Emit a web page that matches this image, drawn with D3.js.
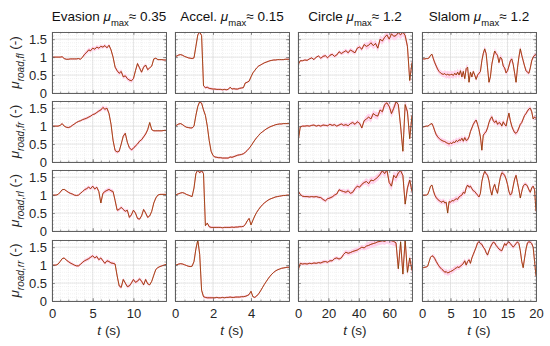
<!DOCTYPE html>
<html>
<head>
<meta charset="utf-8">
<script src="https://cdn.jsdelivr.net/npm/d3@7"></script>
<style>
  body { margin: 0; background: #fff; }
  svg { font-family: "Liberation Sans", Arial, sans-serif; }
</style>
</head>
<body>
<svg id="chart" width="550" height="346"></svg>
<script>
// scenarios (columns) and wheels (rows)
var columnTitles = ["Evasion", "Accel.", "Circle", "Slalom"];
var muMax = ["0.35", "0.15", "1.2", "1.2"];
var wheelLabels = ["fl", "fr", "rl", "rr"];
var timeEnd = [14, 6, 75, 20];
var timeStep = [0.25, 0.1, 1.5, 0.25];
var xTicks = [[0, 5, 10], [0, 2, 4], [0, 20, 40, 60], [0, 5, 10, 15, 20]];
var xMinorStep = [1, 0.5, 5, 1];
var yTicks = [0, 0.5, 1, 1.5];
var bandStep = [2, 1, 15, 2];

// estimated road friction
var evasionFl = [1.0,1.0,1.0,1.0,1.0, 1.01,0.96,0.94,0.94,0.95, 0.95,0.95,0.95,0.96,0.94, 1.0,1.08,1.13,1.2,1.18,
  1.25,1.22,1.28,1.25,1.3, 1.28,1.32,1.26,1.33,1.2, 1.0,0.72,0.62,0.55,0.6, 0.45,0.48,0.4,0.36,0.34,
  0.4,0.62,0.82,0.7,0.58, 0.72,0.78,0.65,0.7,0.75, 0.95,0.97,0.93,0.93,0.93, 0.92,0.92];
var evasionFr = [1.0,1.0,1.0,1.0,1.02, 1.07,1.0,0.97,0.96,0.98, 1.02,1.06,1.1,1.13,1.15, 1.18,1.2,1.22,1.25,1.28,
  1.32,1.34,1.38,1.42,1.45, 1.52,1.47,1.5,1.35,1.05, 0.6,0.32,0.28,0.3,0.5, 0.72,0.8,0.55,0.4,0.34,
  0.38,0.45,0.5,0.58,0.62, 0.7,0.78,0.9,1.1,0.9, 0.87,0.87,0.87,0.87,0.87, 0.88,0.88];
var evasionRl = [1.0,1.0,1.0,1.02,1.08, 1.15,1.16,1.12,1.08,1.05, 1.03,1.0,0.99,1.0,1.05, 1.1,1.15,1.18,1.22,1.18,
  1.25,1.17,1.22,1.1,0.78, 1.05,1.1,1.13,1.16,1.12, 1.1,0.85,0.58,0.6,0.66, 0.6,0.55,0.58,0.38,0.45,
  0.58,0.5,0.35,0.33,0.42, 0.6,0.5,0.38,0.42,0.55, 0.78,0.92,1.0,1.02,1.02, 1.02,1.02];
var evasionRr = [1.0,1.0,1.0,1.03,1.1, 1.18,1.2,1.14,1.1,1.06, 1.03,1.0,0.98,0.98,1.02, 1.08,1.12,1.15,1.18,1.22,
  1.26,1.2,1.24,1.15,1.2, 1.12,1.05,1.12,1.1,1.06, 1.05,1.03,0.7,0.42,0.38, 0.6,0.5,0.4,0.42,0.5,
  0.6,0.52,0.55,0.62,0.55, 0.45,0.6,0.48,0.45,0.55, 0.72,0.88,0.93,0.96,0.98, 1.0,1.02];

var accelFl = [1.02,1.03,1.06,1.07,1.05,1.02,1.0,0.98,0.97,0.96, 0.98,1.3,1.62,1.7,1.6,0.2,0.15,0.16,0.13,0.12,
  0.11,0.11,0.1,0.1,0.1,0.09,0.1,0.09,0.1,0.16, 0.11,0.12,0.11,0.11,0.13,0.14,0.15,0.28,0.3,0.33,
  0.45,0.56,0.63,0.7,0.75,0.78,0.81,0.84,0.86,0.88, 0.9,0.91,0.92,0.92,0.93,0.93,0.93,0.93,0.94,0.94, 0.94];
var accelFr = [1.0,1.03,1.06,1.07,1.04,1.0,0.97,0.96,0.95,0.95, 1.0,1.3,1.55,1.68,1.64,1.45,1.3,1.0,0.6,0.3,
  0.18,0.14,0.13,0.12,0.12,0.11,0.11,0.11,0.11,0.14, 0.13,0.15,0.17,0.19,0.2,0.21,0.23,0.27,0.32,0.38,
  0.45,0.53,0.61,0.68,0.74,0.8,0.84,0.88,0.92,0.95, 0.98,1.0,1.02,1.04,1.05,1.06,1.06,1.07,1.07,1.07, 1.07];
var accelRl = [1.0,1.02,1.04,1.06,1.07,1.05,1.02,1.0,0.98,0.96, 1.2,1.6,1.7,1.62,1.68,1.6,0.15,0.22,0.12,0.1,
  0.1,0.1,0.1,0.1,0.1,0.09,0.1,0.1,0.1,0.1, 0.11,0.1,0.11,0.11,0.12,0.12,0.13,0.18,0.28,0.35,
  0.17,0.3,0.42,0.52,0.6,0.67,0.73,0.78,0.82,0.86, 0.89,0.91,0.93,0.95,0.96,0.97,0.98,0.99,0.99,1.0, 1.0];
var accelRr = [1.0,1.01,1.03,1.04,1.03,1.01,0.99,0.97,0.96,0.97, 1.1,1.45,1.7,1.3,0.3,0.12,0.1,0.09,0.09,0.09,
  0.09,0.09,0.1,0.09,0.09,0.1,0.09,0.1,0.1,0.11, 0.1,0.1,0.11,0.11,0.11,0.12,0.12,0.13,0.15,0.18,
  0.27,0.12,0.1,0.14,0.2,0.28,0.37,0.46,0.54,0.62, 0.69,0.75,0.8,0.84,0.87,0.89,0.91,0.92,0.93,0.94, 0.94];

var circleFl = [0.78,0.9,0.9,0.92,0.91, 0.95,0.98,0.93,1.0,1.03, 0.97,1.02,1.04,0.98,1.05, 1.08,1.02,1.06,1.15,1.1,
  1.14,1.18,1.12,1.2,1.16, 1.12,1.25,1.28,1.22,1.35, 1.3,1.33,1.4,1.32,1.38, 1.25,1.5,1.45,1.55,1.62,
  1.5,1.65,1.58,1.6,1.68, 1.62,1.7,1.6,1.3,0.35, 0.85];
var circleFr = [0.55,0.98,1.0,1.0,1.01, 1.0,1.02,1.03,1.0,1.02, 1.0,1.03,1.02,1.01,1.05, 1.02,1.04,1.0,1.03,1.06,
  1.02,1.04,1.01,1.07,1.1, 1.05,1.12,1.08,0.95,1.15, 1.2,1.25,1.2,1.35,1.3, 1.28,1.45,1.4,1.6,1.65,
  1.55,1.35,1.5,1.68,1.6, 1.0,0.3,1.6,1.4,0.65, 1.3];
var circleRl = [1.12,1.02,0.97,0.96,0.96, 0.95,0.96,0.95,0.96,0.94, 0.93,0.88,0.84,0.9,0.92, 0.95,1.0,1.03,1.15,1.12,
  1.1,1.08,1.12,1.05,1.08, 1.18,1.25,1.22,1.3,1.35, 1.38,1.32,1.42,1.4,1.45, 1.5,1.58,1.68,1.6,1.7,
  1.35,1.25,1.55,1.48,1.62, 1.68,1.55,0.75,1.2,1.42, 1.1];
var circleRr = [0.85,1.05,1.03,1.04,1.03, 1.05,1.04,1.06,1.05,1.07, 1.06,1.09,1.1,1.08,1.12, 1.12,1.18,1.2,1.17,1.2,
  1.3,1.36,1.33,1.35,1.38, 1.4,1.42,1.46,1.5,1.48, 1.53,1.55,1.58,1.6,1.62, 1.65,1.66,1.68,1.66,1.7,
  1.69,1.68,1.66,1.62,0.9, 1.65,0.75,1.7,0.8,1.2, 0.85];

var slalomFl = [0.95,0.95,0.95,0.96, 0.96,0.98,1.05,1.08, 0.95,0.84,0.75,0.66, 0.6,0.56,0.53,0.52, 0.54,0.5,0.52,0.5,
  0.51,0.52,0.49,0.55, 0.5,0.58,0.5,0.62, 0.45,0.6,0.4,0.68, 0.72,0.3,0.58,0.45, 0.6,0.5,0.38,0.5,
  0.55,0.6,0.9,1.1, 1.23,1.1,0.7,0.3, 0.45,0.8,1.0,1.17, 1.1,1.05,0.85,1.0, 0.95,0.75,0.7,0.56,
  0.62,0.75,0.9,0.95, 0.8,0.55,0.3,0.7, 1.0,1.23,1.05,0.9, 0.75,0.62,0.58,0.55, 0.7,0.9,1.0,1.05, 1.07];
var slalomFr = [0.98,0.98,0.99,1.0, 1.0,1.02,1.06,1.07, 0.98,0.86,0.76,0.7, 0.66,0.62,0.6,0.58, 0.57,0.54,0.52,0.5,
  0.53,0.51,0.56,0.54, 0.6,0.57,0.62,0.6, 0.66,0.58,0.68,0.6, 0.62,0.7,0.85,0.95, 1.05,1.12,1.17,1.05,
  0.9,0.7,0.33,0.75, 0.8,0.85,0.95,1.1, 1.2,1.26,1.15,1.1, 1.15,1.05,1.1,1.08, 1.0,1.12,1.05,1.0,
  1.2,1.36,1.15,1.0, 0.9,0.82,0.8,0.85, 0.95,1.05,1.1,1.2, 1.3,1.35,1.42,1.48, 1.5,1.4,1.2,1.25, 1.22];
var slalomRl = [1.0,1.0,1.0,1.0, 1.02,1.12,1.25,1.28, 1.12,1.0,0.93,0.88, 0.85,0.82,0.8,0.84, 0.78,0.8,0.5,0.82,
  0.8,0.85,0.84,0.87, 0.9,0.88,0.95,0.98, 1.0,1.08,1.05,1.2, 1.28,1.22,1.25,1.18, 1.12,1.1,1.05,1.0,
  0.95,1.05,1.38,1.55, 1.66,1.6,1.55,1.4, 1.15,1.0,1.2,1.3, 1.15,1.05,1.3,1.5, 1.62,1.6,1.55,1.45,
  1.3,1.1,1.0,1.05, 1.25,1.45,1.55,1.35, 1.15,0.92,1.1,1.25, 1.3,1.3,1.25,1.15, 1.08,1.2,1.25,1.15, 0.55];
var slalomRr = [0.93,0.93,0.94,0.95, 0.97,1.1,1.22,1.26, 1.24,1.18,1.1,1.03, 0.97,0.92,0.88,0.85, 0.8,0.82,0.78,0.8,
  0.82,0.84,0.86,0.9, 0.92,0.95,0.93,0.98, 1.0,1.05,1.12,1.0, 1.1,1.15,1.05,1.2, 1.3,1.4,1.5,1.62,
  1.65,1.6,1.58,1.5, 1.45,1.35,1.28,1.4, 1.5,1.58,1.64,1.62, 1.55,1.5,1.45,1.42, 1.4,1.5,1.6,1.55,
  1.62,1.65,1.6,1.55, 1.5,1.55,1.6,1.65, 1.6,1.4,1.1,0.93, 1.2,1.45,1.62,1.65, 1.64,1.6,1.5,1.1, 0.7];

// half-width of the pink uncertainty band, per time interval
var evasionBand = [[0.02,0.02,0.06,0.05,0.06,0.05,0.02], [0.02,0.03,0.04,0.06,0.05,0.05,0.02],
  [0.02,0.03,0.05,0.06,0.05,0.04,0.02], [0.02,0.04,0.05,0.05,0.05,0.05,0.02]];
var accelBand = [[0.02,0.04,0.03,0.03,0.02,0.02], [0.02,0.04,0.03,0.03,0.02,0.02],
  [0.02,0.04,0.03,0.03,0.02,0.02], [0.02,0.04,0.03,0.03,0.02,0.02]];
var circleBand = [[0.03,0.05,0.06,0.1,0.12], [0.03,0.04,0.06,0.1,0.12],
  [0.04,0.05,0.07,0.1,0.12], [0.04,0.05,0.07,0.1,0.12]];
var slalomBand = [[0.02,0.08,0.1,0.1,0.06,0.08,0.08,0.08,0.08,0.06], [0.02,0.07,0.08,0.08,0.06,0.07,0.07,0.07,0.07,0.06],
  [0.02,0.07,0.08,0.08,0.06,0.06,0.07,0.07,0.07,0.06], [0.02,0.07,0.08,0.07,0.06,0.06,0.06,0.06,0.06,0.06]];

var series = [
  [evasionFl, evasionFr, evasionRl, evasionRr],
  [accelFl, accelFr, accelRl, accelRr],
  [circleFl, circleFr, circleRl, circleRr],
  [slalomFl, slalomFr, slalomRl, slalomRr]
];
var bands = [evasionBand, accelBand, circleBand, slalomBand];

var colLeft = [52, 175, 298, 422];
var rowTop = [32, 101, 170, 240];
var panelW = 114, panelH = 61;

var svg = d3.select("#chart");
var defs = svg.append("defs");

series.forEach(function(col, c) {
  var x = d3.scaleLinear().domain([0, timeEnd[c]]).range([colLeft[c], colLeft[c] + panelW]);
  var xMinor = d3.range(0, timeEnd[c] + 1e-9, xMinorStep[c]);

  // column title
  var title = svg.append("text")
    .attr("x", colLeft[c] + panelW / 2).attr("y", 21)
    .attr("text-anchor", "middle").style("font-size", "13.5px").attr("fill", "#111");
  title.append("tspan").text(columnTitles[c] + " ");
  title.append("tspan").style("font-style", "italic").text("\u03bc");
  title.append("tspan").attr("dy", 5).style("font-size", "9.5px").text("max");
  title.append("tspan").attr("dy", -5).text("\u2248 " + muMax[c]);

  // x label
  var xl = svg.append("text")
    .attr("x", colLeft[c] + panelW / 2).attr("y", 335)
    .attr("text-anchor", "middle").style("font-size", "13.5px").attr("fill", "#262626");
  xl.append("tspan").style("font-style", "italic").text("t");
  xl.append("tspan").text(" (s)");

  col.forEach(function(vals, r) {
    var y = d3.scaleLinear().domain([0, 1.7]).range([rowTop[r] + panelH, rowTop[r]]);
    var yMinor = d3.range(0, 1.7 + 1e-9, 0.1);
    var g = svg.append("g");
    var clipId = "clip-" + c + "-" + r;
    defs.append("clipPath").attr("id", clipId).append("rect")
      .attr("x", colLeft[c]).attr("y", rowTop[r]).attr("width", panelW).attr("height", panelH);

    // minor grid
    g.selectAll(".gmx").data(xMinor).join("line")
      .attr("x1", function(d) { return x(d); }).attr("x2", function(d) { return x(d); })
      .attr("y1", y(0)).attr("y2", y(1.7))
      .attr("stroke", "#e4e4e4").attr("stroke-width", 0.5).attr("stroke-dasharray", "1,1");
    g.selectAll(".gmy").data(yMinor).join("line")
      .attr("y1", function(d) { return y(d); }).attr("y2", function(d) { return y(d); })
      .attr("x1", x(0)).attr("x2", x(timeEnd[c]))
      .attr("stroke", "#e4e4e4").attr("stroke-width", 0.5).attr("stroke-dasharray", "1,1");
    // major grid
    g.selectAll(".gx").data(xTicks[c]).join("line")
      .attr("x1", function(d) { return x(d); }).attr("x2", function(d) { return x(d); })
      .attr("y1", y(0)).attr("y2", y(1.7))
      .attr("stroke", "#d6d6d6").attr("stroke-width", 0.6);
    g.selectAll(".gy").data(yTicks).join("line")
      .attr("y1", function(d) { return y(d); }).attr("y2", function(d) { return y(d); })
      .attr("x1", x(0)).attr("x2", x(timeEnd[c]))
      .attr("stroke", "#d6d6d6").attr("stroke-width", 0.6);

    var pts = vals.map(function(v, i) { return [i * timeStep[c], v]; });
    var bw = bands[c][r];
    var half = function(t) { return bw[Math.min(bw.length - 1, Math.floor(t / bandStep[c]))]; };

    var plot = g.append("g").attr("clip-path", "url(#" + clipId + ")");
    plot.append("path").datum(pts)
      .attr("fill", "#ffd3ec")
      .attr("d", d3.area()
        .x(function(d) { return x(d[0]); })
        .y0(function(d) { return y(d[1] - half(d[0])); })
        .y1(function(d) { return y(d[1] + half(d[0])); }));
    var line = d3.line().x(function(d) { return x(d[0]); }).y(function(d) { return y(d[1]); });
    plot.append("path").datum(pts).attr("d", line)
      .attr("fill", "none").attr("stroke", "#ff1a1a").attr("stroke-width", 0.9);
    plot.append("path").datum(pts).attr("d", line)
      .attr("fill", "none").attr("stroke", "#1f6b00").attr("stroke-width", 0.75).attr("stroke-opacity", 0.55);

    // axes: major ticks inward on all four sides, minor ticks smaller
    var bottom = d3.axisBottom(x).tickValues(xTicks[c]).tickSize(-3).tickSizeOuter(0).tickPadding(8)
      .tickFormat(r === 3 ? d3.format("d") : "");
    var top = d3.axisTop(x).tickValues(xTicks[c]).tickSize(-3).tickSizeOuter(0).tickFormat("");
    var left = d3.axisLeft(y).tickValues(yTicks).tickSize(-3).tickSizeOuter(0).tickPadding(5)
      .tickFormat(c === 0 ? function(d) { return d; } : "");
    var right = d3.axisRight(y).tickValues(yTicks).tickSize(-3).tickSizeOuter(0).tickFormat("");

    var axes = [
      [bottom, "translate(0," + y(0) + ")"],
      [top, "translate(0," + y(1.7) + ")"],
      [left, "translate(" + x(0) + ",0)"],
      [right, "translate(" + x(timeEnd[c]) + ",0)"],
      [d3.axisBottom(x).tickValues(xMinor).tickSize(-1.5).tickSizeOuter(0).tickFormat(""), "translate(0," + y(0) + ")"],
      [d3.axisTop(x).tickValues(xMinor).tickSize(-1.5).tickSizeOuter(0).tickFormat(""), "translate(0," + y(1.7) + ")"],
      [d3.axisLeft(y).tickValues(yMinor).tickSize(-1.5).tickSizeOuter(0).tickFormat(""), "translate(" + x(0) + ",0)"],
      [d3.axisRight(y).tickValues(yMinor).tickSize(-1.5).tickSizeOuter(0).tickFormat(""), "translate(" + x(timeEnd[c]) + ",0)"]
    ];
    axes.forEach(function(a) {
      var ag = g.append("g").attr("transform", a[1]).call(a[0]);
      ag.select(".domain").attr("stroke", "#5a5a5a").attr("stroke-width", 0.8);
      ag.selectAll(".tick line").attr("stroke", "#5a5a5a").attr("stroke-width", 0.6);
      ag.selectAll(".tick text").attr("fill", "#262626")
        .style("font-size", "13px").style("font-family", "'Liberation Sans', Arial, sans-serif");
    });

    // y label on the first column
    if (c === 0) {
      var cy = rowTop[r] + panelH / 2;
      var yl = svg.append("text")
        .attr("transform", "translate(19," + cy + ") rotate(-90)")
        .attr("text-anchor", "middle").style("font-size", "13.5px").attr("fill", "#262626");
      yl.append("tspan").style("font-style", "italic").text("\u03bc");
      yl.append("tspan").attr("dy", 5).style("font-size", "10px").style("font-style", "italic")
        .text("road," + wheelLabels[r]);
      yl.append("tspan").attr("dy", -5).text(" (-)");
    }
  });
});
</script>
</body>
</html>
